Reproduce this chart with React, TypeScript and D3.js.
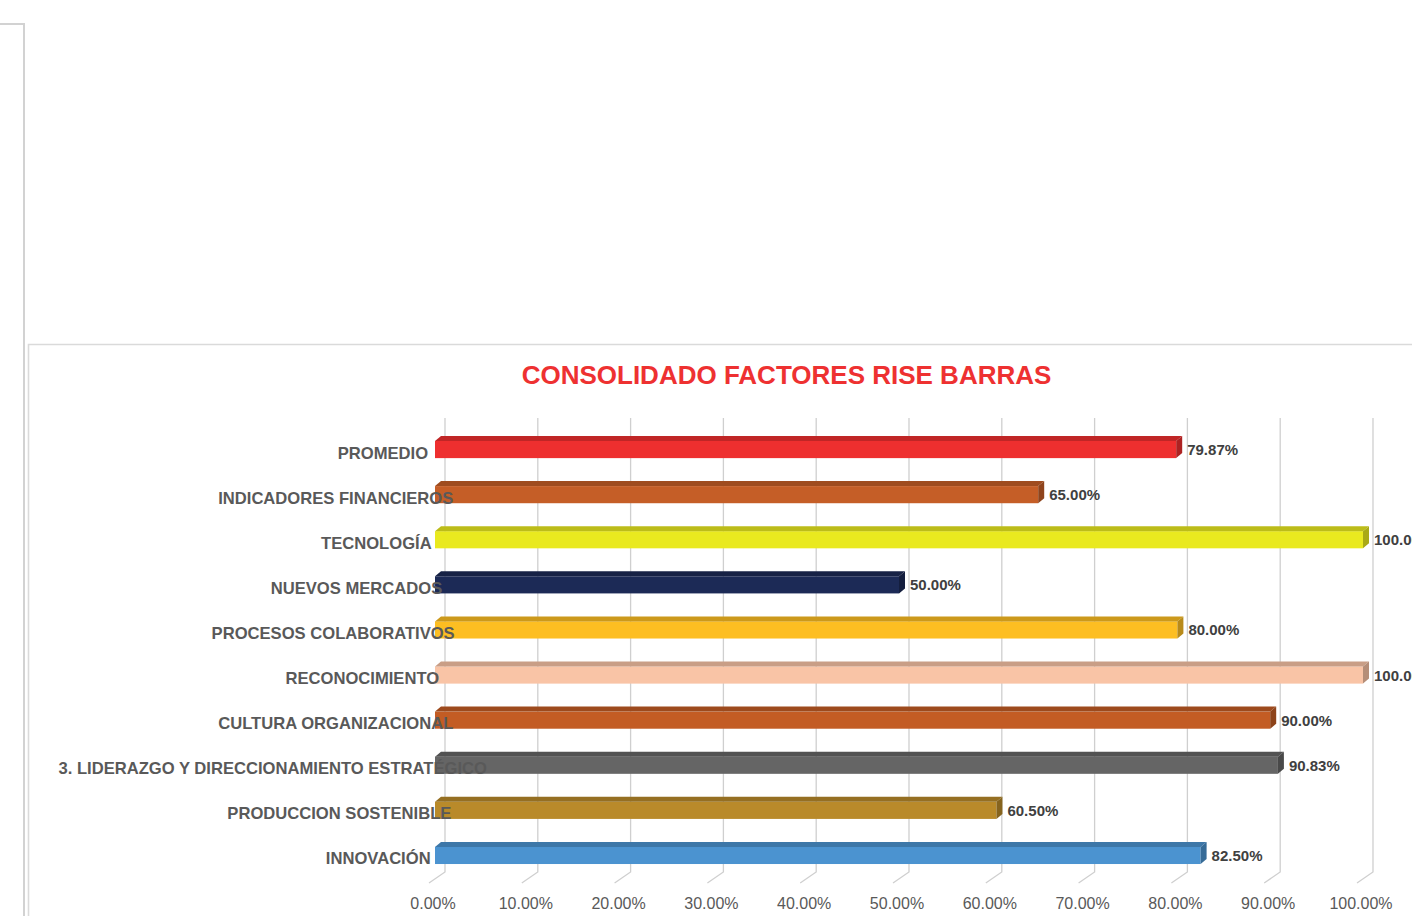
import React, { useEffect, useRef } from 'react';
import * as d3 from 'd3';

// categories top to bottom, as shown in the chart
const categories = [
  'PROMEDIO',
  'INDICADORES FINANCIEROS',
  'TECNOLOGÍA',
  'NUEVOS MERCADOS',
  'PROCESOS COLABORATIVOS',
  'RECONOCIMIENTO',
  'CULTURA ORGANIZACIONAL',
  '3. LIDERAZGO Y DIRECCIONAMIENTO ESTRATÉGICO',
  'PRODUCCION SOSTENIBLE',
  'INNOVACIÓN',
];
const values = [0.7987, 0.65, 1, 0.5, 0.8, 1, 0.9, 0.9083, 0.605, 0.825];
const barColors = [
  '#ee2f2f', '#c55e27', '#e9e91f', '#1c2a56', '#fdbe22',
  '#f9c4a6', '#c35c24', '#656565', '#b98a2a', '#4b93d0',
];
const title = 'CONSOLIDADO FACTORES RISE BARRAS';

const WIDTH = 1412;
const HEIGHT = 916;
const FONT = '"Liberation Sans", Arial, Helvetica, sans-serif';

export default function App() {
  const svgRef = useRef<SVGSVGElement>(null);

  useEffect(() => {
    if (!svgRef.current) return;
    const svg = d3.select(svgRef.current);
    svg.selectAll('*').remove();

    // outer frames
    svg.append('path')
      .attr('d', `M0,24H24V${HEIGHT}`)
      .attr('fill', 'none')
      .attr('stroke', '#d2d2d2')
      .attr('stroke-width', 2);
    svg.append('path')
      .attr('d', `M${WIDTH},344.5H28.5V${HEIGHT}`)
      .attr('fill', 'none')
      .attr('stroke', '#dadada')
      .attr('stroke-width', 1.6);

    svg.append('text')
      .attr('x', 786.5)
      .attr('y', 384)
      .attr('text-anchor', 'middle')
      .attr('font-family', FONT)
      .attr('font-size', 26)
      .attr('font-weight', 'bold')
      .attr('fill', '#ee3131')
      .text(title);

    const x = d3.scaleLinear().domain([0, 1]).range([445, 1373]);
    const y = d3.scaleBand().domain(categories).range([427, 878]);
    const fmt = d3.format('.2%');

    // 3D offsets
    const depthX = 6;
    const depthY = 5;
    const floorX = -16;
    const floorY = 11;
    const wallTop = 418;
    const wallBottom = 872;
    const barShift = -10;

    // gridlines on back wall + floor
    const ticks = x.ticks(10);
    svg.append('g')
      .selectAll('path')
      .data(ticks)
      .join('path')
      .attr('d', d => `M${x(d)},${wallTop}V${wallBottom}l${floorX},${floorY}`)
      .attr('fill', 'none')
      .attr('stroke', '#cfcfcf')
      .attr('stroke-width', 1.3);

    svg.append('g')
      .selectAll('text')
      .data(ticks)
      .join('text')
      .attr('x', d => x(d) - 12)
      .attr('y', 909)
      .attr('text-anchor', 'middle')
      .attr('font-family', FONT)
      .attr('font-size', 16)
      .attr('fill', '#595959')
      .text(d => fmt(d));

    const barH = y.bandwidth() * 0.38;
    const rows = categories.map((c, i) => ({
      name: c,
      value: values[i],
      color: barColors[i],
      cy: (y(c) as number) + y.bandwidth() / 2,
    }));

    const bars = svg.append('g');
    rows.forEach(r => {
      const x0 = x(0) + barShift;
      const x1 = x(r.value) + barShift;
      const y0 = r.cy - barH / 2;
      const base = d3.color(r.color)!;
      bars.append('rect')
        .attr('x', x0)
        .attr('y', y0)
        .attr('width', x1 - x0)
        .attr('height', barH)
        .attr('fill', r.color);
      bars.append('polygon')
        .attr('points', `${x0},${y0} ${x0 + depthX},${y0 - depthY} ${x1 + depthX},${y0 - depthY} ${x1},${y0}`)
        .attr('fill', base.darker(0.6).toString());
      bars.append('polygon')
        .attr('points', `${x1},${y0} ${x1 + depthX},${y0 - depthY} ${x1 + depthX},${y0 + barH - depthY} ${x1},${y0 + barH}`)
        .attr('fill', base.darker(0.9).toString());
      bars.append('text')
        .attr('x', x1 + depthX + 5)
        .attr('y', r.cy)
        .attr('dominant-baseline', 'central')
        .attr('font-family', FONT)
        .attr('font-size', 15)
        .attr('font-weight', 'bold')
        .attr('fill', '#404040')
        .text(fmt(r.value));
    });

    // category labels (drawn over the bars, like the original)
    const labels = svg.append('g')
      .selectAll('text')
      .data(rows)
      .join('text')
      .attr('y', d => d.cy + 3.5)
      .attr('dominant-baseline', 'central')
      .attr('font-family', FONT)
      .attr('font-size', 16.6)
      .attr('font-weight', 'bold')
      .attr('fill', '#595959')
      .text(d => d.name);
    labels.attr('x', function () {
      const w = (this as SVGTextElement).getComputedTextLength();
      return 412.4 - 0.826 * w;
    });
  }, []);

  return (
    <svg
      ref={svgRef}
      width={WIDTH}
      height={HEIGHT}
      style={{ position: 'absolute', left: 0, top: 0, background: '#fff' }}
    />
  );
}
